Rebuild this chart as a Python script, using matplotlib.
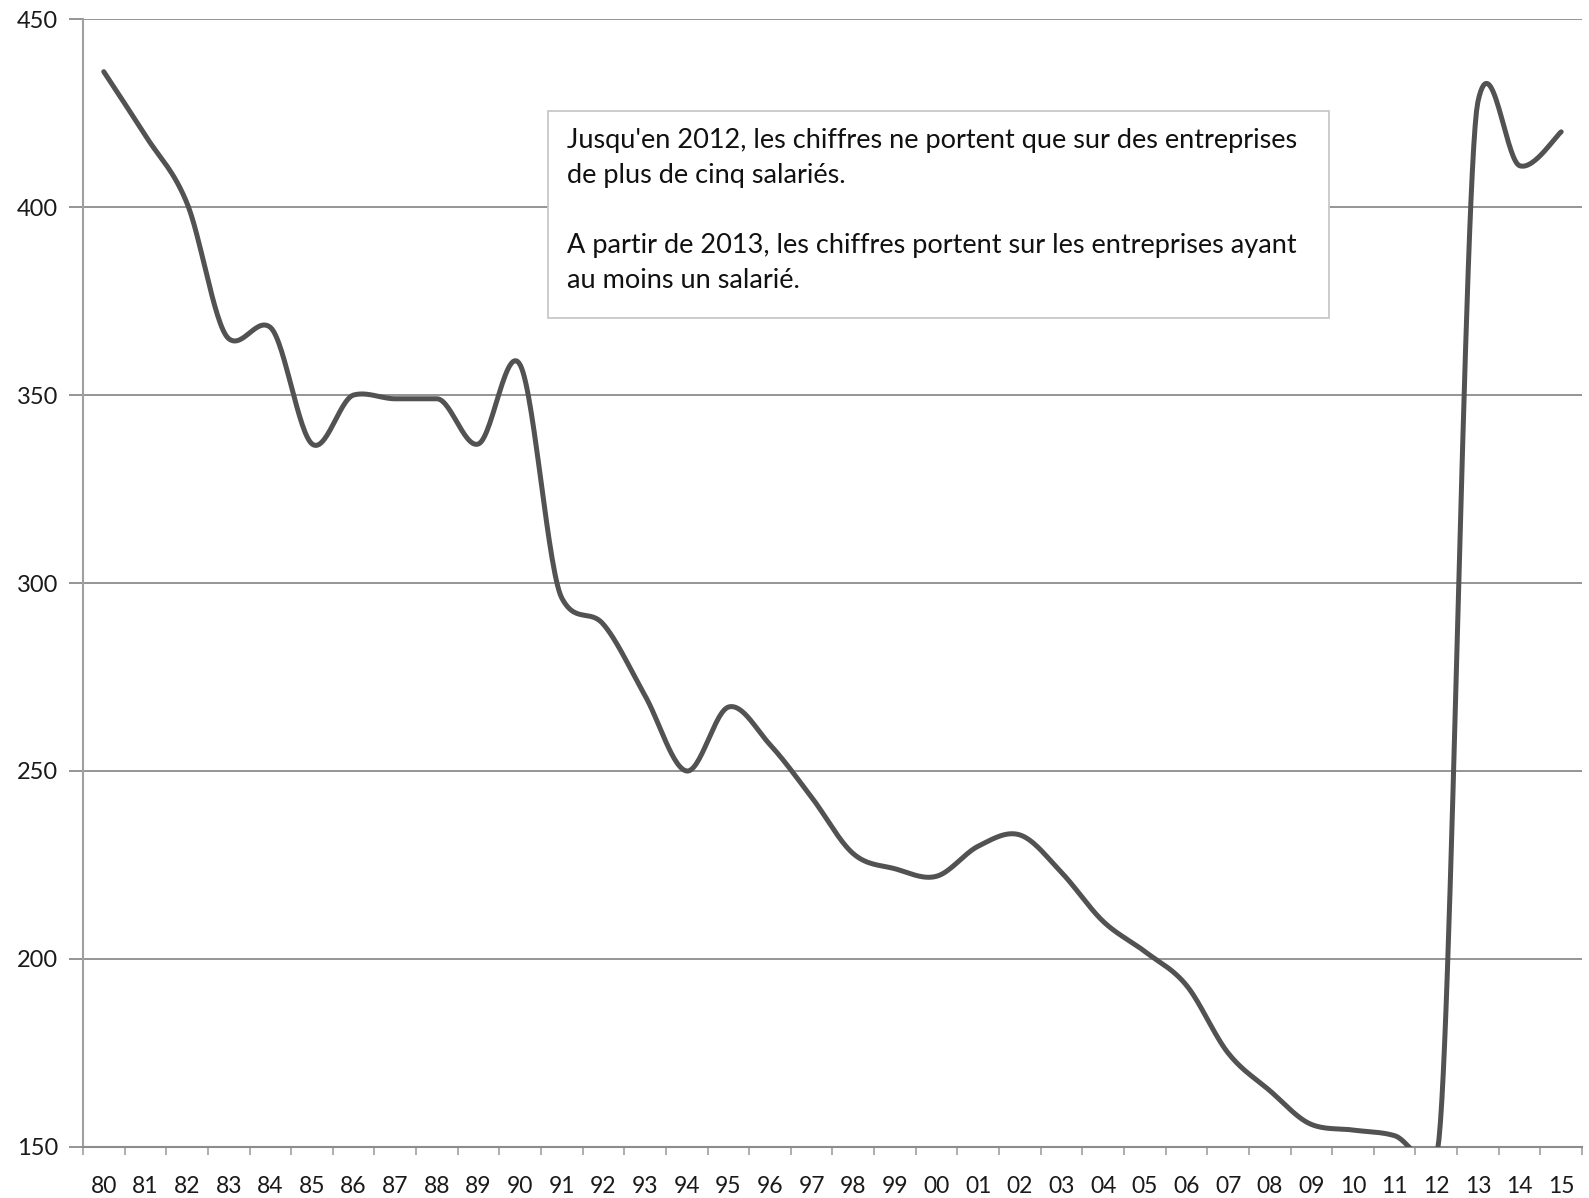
import numpy as np
import matplotlib
matplotlib.use("Agg")
import matplotlib.pyplot as plt
from matplotlib.patches import Rectangle

# years 1980 -> 2015, two-digit labels as on the original chart
years = ['80', '81', '82', '83', '84', '85', '86', '87', '88', '89',
         '90', '91', '92', '93', '94', '95', '96', '97', '98', '99',
         '00', '01', '02', '03', '04', '05', '06', '07', '08', '09',
         '10', '11', '12', '13', '14', '15']
values = [436, 419, 401, 365, 368, 337, 350, 349, 349, 337,
          358, 296, 289, 270, 250, 267, 257, 243, 228, 224,
          222, 230, 233, 223, 210, 202, 193, 175, 165, 156,
          154.5, 153, 148, 428, 411, 420]

note = ("Jusqu'en 2012, les chiffres ne portent que sur des entreprises\n"
        "de plus de cinq salariés.\n"
        "\n"
        "A partir de 2013, les chiffres portent sur les entreprises ayant\n"
        "au moins un salarié.")


def smooth_line(x, y, n=30):
    # Catmull-Rom style spline (like Excel's smoothed line), with the
    # vertical tangents limited so the big 2012->2013 jump does not overshoot
    px = np.concatenate([[x[0]], x, [x[-1]]])
    py = np.concatenate([[y[0]], y, [y[-1]]])
    mx = (px[2:] - px[:-2]) / 2
    my = (py[2:] - py[:-2]) / 2
    d = np.diff(y)
    for i in range(1, len(y) - 1):
        lim = 3 * min(abs(d[i - 1]), abs(d[i]))
        my[i] = np.clip(my[i], -lim, lim)
    t = np.linspace(0, 1, n, endpoint=False)
    h00 = 2 * t**3 - 3 * t**2 + 1
    h10 = t**3 - 2 * t**2 + t
    h01 = -2 * t**3 + 3 * t**2
    h11 = t**3 - t**2
    xs, ys = [], []
    for i in range(len(x) - 1):
        xs.append(h00 * x[i] + h10 * mx[i] + h01 * x[i + 1] + h11 * mx[i + 1])
        ys.append(h00 * y[i] + h10 * my[i] + h01 * y[i + 1] + h11 * my[i + 1])
    xs.append([x[-1]])
    ys.append([y[-1]])
    return np.concatenate(xs), np.concatenate(ys)


fig = plt.figure(figsize=(15.89, 11.98), dpi=100)
ax = fig.add_axes([0.0522, 0.0426, 0.9434, 0.9415])

idx = np.arange(len(years), dtype=float)
sx, sy = smooth_line(idx, np.array(values, dtype=float))
ax.plot(sx, sy, color='#525252', linewidth=3.6, solid_capstyle='round', zorder=3)

ax.set_xlim(-0.5, len(years) - 0.5)
ax.set_ylim(150, 450)
ax.set_yticks(np.arange(150, 451, 50))
ax.yaxis.grid(True, color='#8c8c8c', linewidth=1.3)
ax.set_axisbelow(True)

ax.set_xticks(idx)
ax.set_xticklabels(years)
ax.set_xticks(np.arange(-0.5, len(years)), minor=True)
ax.tick_params(axis='x', which='major', length=0, pad=21, labelsize=16.5,
               labelcolor='#1a1a1a')
ax.tick_params(axis='x', which='minor', length=6, width=1.2, color='#a0a0a0',
               direction='out')
ax.tick_params(axis='y', length=10, width=1.3, color='#8c8c8c', pad=8,
               labelsize=17, labelcolor='#1a1a1a')
for lab in ax.get_xticklabels() + ax.get_yticklabels():
    lab.set_family('Lato')

for side in ['top', 'right']:
    ax.spines[side].set_visible(False)
ax.spines['left'].set_color('#a0a0a0')
ax.spines['left'].set_linewidth(1.5)
ax.spines['bottom'].set_color('#8c8c8c')
ax.spines['bottom'].set_linewidth(1.5)

# note box
fig.patches.append(Rectangle((0.3449, 0.7346), 0.4915, 0.1728,
                             transform=fig.transFigure, facecolor='white',
                             edgecolor='#c8c8c8', linewidth=1.3, zorder=4))
fig.text(0.3568, 0.8239, note, family='Lato', fontsize=19.5, color='#111111',
         va='center', ha='left', linespacing=1.5, zorder=5)

fig.savefig('out.png', dpi=100, facecolor='white')
